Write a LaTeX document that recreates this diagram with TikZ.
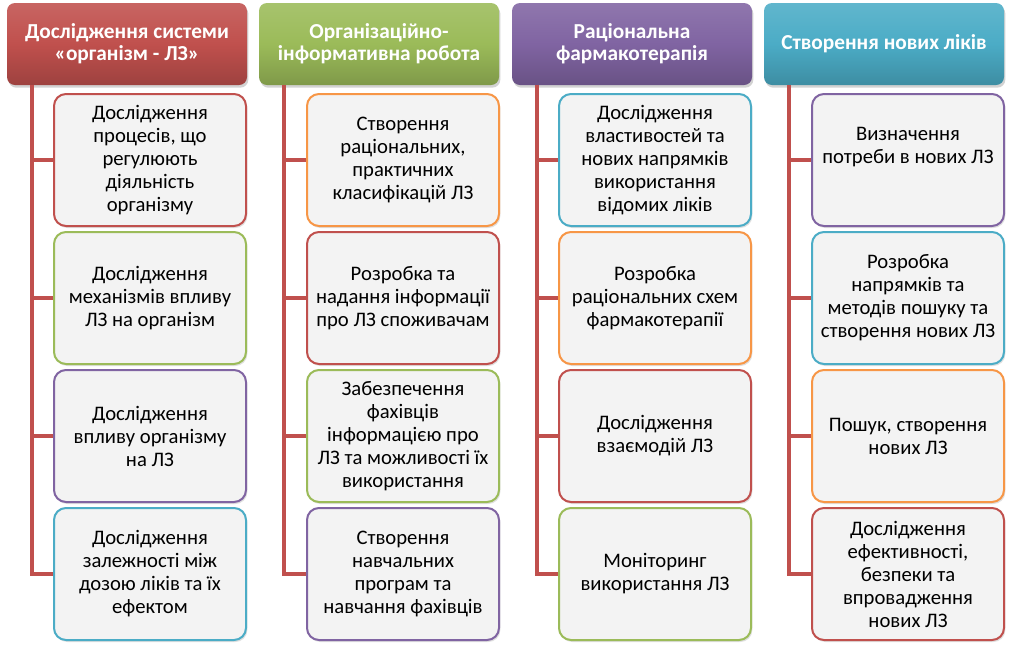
\documentclass[tikz,border=0pt]{standalone}
\usepackage{fontspec}
\setmainfont{Carlito}
\usetikzlibrary{shadows,calc}
\definecolor{cred}{RGB}{192,80,77}
\definecolor{cgreen}{RGB}{155,187,89}
\definecolor{cpurple}{RGB}{128,100,162}
\definecolor{caqua}{RGB}{75,172,198}
\definecolor{corange}{RGB}{247,150,70}
\definecolor{cfill}{RGB}{243,243,243}
\begin{document}
\begin{tikzpicture}[x=0.75pt,y=-0.75pt,
  hdr/.style={rounded corners=6pt, minimum width=180pt, minimum height=61.5pt,
    inner sep=0pt, align=center, text=white,
    font=\bfseries\fontsize{16}{16.5}\selectfont,
    top color=#1!88!white, bottom color=#1!82!black, middle color=#1,
    drop shadow={opacity=0.35, shadow xshift=1pt, shadow yshift=-2pt}},
  child/.style={draw=#1, line width=1.5pt, fill=cfill, rounded corners=9pt,
    minimum width=144pt, minimum height=99pt, inner sep=0pt, align=center,
    font=\fontsize{15.5}{17.25}\selectfont,
    drop shadow={opacity=0.25, shadow xshift=1pt, shadow yshift=-1.5pt}},
  conn/.style={draw=cred, line width=3pt}]
\fill[white] (0,0) rectangle (1011,651);
\useasboundingbox (0,0) rectangle (1011,651);

% headers
\node[hdr=cred]    (h1) at (127,44) {Дослідження системи\\«організм - ЛЗ»};
\node[hdr=cgreen]  (h2) at (379,44) {Організаційно-\\інформативна робота};
\node[hdr=cpurple] (h3) at (632,44) {Раціональна\\фармакотерапія};
\node[hdr=caqua]   (h4) at (884,44) {Створення нових ліків};

\coordinate (v1) at (32,85);
\coordinate (v2) at (284,85);
\coordinate (v3) at (537,85);
\coordinate (v4) at (789,85);

% column 1
\node[child=cred]    (c11) at (150,160) {Дослідження\\процесів, що\\регулюють\\діяльність\\організму};
\node[child=cgreen]  (c12) at (150,298) {Дослідження\\механізмів впливу\\ЛЗ на організм};
\node[child=cpurple] (c13) at (150,436) {Дослідження\\впливу організму\\на ЛЗ};
\node[child=caqua]   (c14) at (150,574) {Дослідження\\залежності між\\дозою ліків та їх\\ефектом};

% column 2
\node[child=corange] (c21) at (403,160) {Створення\\раціональних,\\практичних\\класифікацій ЛЗ};
\node[child=cred]    (c22) at (403,298) {Розробка та\\надання інформації\\про ЛЗ споживачам};
\node[child=cgreen]  (c23) at (403,436) {Забезпечення\\фахівців\\інформацією про\\ЛЗ та можливості їх\\використання};
\node[child=cpurple] (c24) at (403,574) {Створення\\навчальних\\програм та\\навчання фахівців};

% column 3
\node[child=caqua]   (c31) at (655,160) {Дослідження\\властивостей та\\нових напрямків\\використання\\відомих ліків};
\node[child=corange] (c32) at (655,298) {Розробка\\раціональних схем\\фармакотерапії};
\node[child=cred]    (c33) at (655,436) {Дослідження\\взаємодій ЛЗ};
\node[child=cgreen]  (c34) at (655,574) {Моніторинг\\використання ЛЗ};

% column 4
\node[child=cpurple] (c41) at (908,160) {Визначення\\потреби в нових ЛЗ\\\strut};
\node[child=caqua]   (c42) at (908,298) {Розробка\\напрямків та\\методів пошуку та\\створення нових ЛЗ};
\node[child=corange] (c43) at (908,436) {Пошук, створення\\нових ЛЗ};
\node[child=cred]    (c44) at (908,574) {Дослідження\\ефективності,\\безпеки та\\впровадження\\нових ЛЗ};

% connectors
\foreach \c in {1,2,3,4}{
  \draw[conn] (v\c) |- (c\c4.west);
  \foreach \r in {1,2,3}{
    \draw[conn] (v\c |- c\c\r.west) -- (c\c\r.west);
  }
}
\end{tikzpicture}
\end{document}
